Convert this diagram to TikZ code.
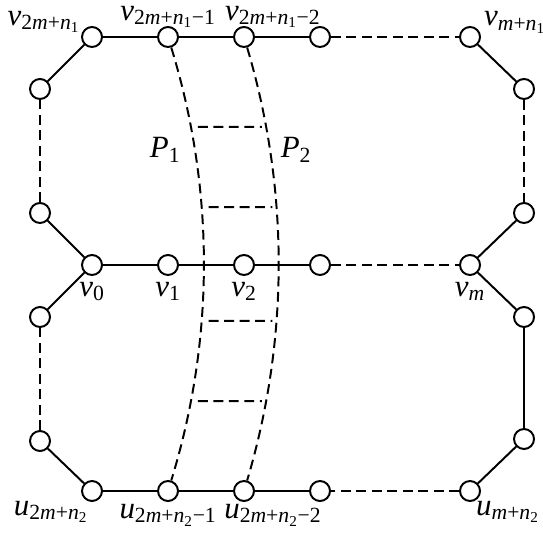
\documentclass[tikz,border=0pt]{standalone}
\usepackage{fontspec}
\setmainfont{Liberation Serif}
\newcommand\idx[2]{\textit{#1}\textsubscript{#2}}
\newcommand\nidx[1]{\textit{n}\textsubscript{#1}}
\tikzset{
  vert/.style={circle,draw,fill=white,minimum size=0.5cm,inner sep=0pt},
  lab/.style={inner sep=1pt},
  dsh/.style={dash pattern=on 7pt off 4pt},
}
\begin{document}
\begin{tikzpicture}[every node/.style={font=\fontsize{22}{26}\selectfont},line width=1.4pt]
\useasboundingbox (0,0) rectangle (13.575,13.425);
% top row
\node[vert,label={[lab,xshift=-0.05cm,yshift=-0.14cm]above left:\idx{v}{2\textit{m}+\nidx{1}}}] (t0) at (2.3,12.5) {};
\node[vert,label={[lab,yshift=-0.1cm]above:\idx{v}{2\textit{m}+\nidx{1}−1}}] (t1) at (4.2,12.5) {};
\node[vert,label={[lab,xshift=0.72cm,yshift=-0.1cm]above:\idx{v}{2\textit{m}+\nidx{1}−2}}] (t2) at (6.1,12.5) {};
\node[vert] (t3) at (8.0,12.5) {};
\node[vert,label={[lab,xshift=0.1cm,yshift=-0.16cm]above right:\idx{v}{\textit{m}+\nidx{1}}}] (tm) at (11.75,12.5) {};
% middle row
\node[vert,label={[lab,label distance=0.1cm]below:\idx{v}{0}}] (v0) at (2.3,6.8) {};
\node[vert,label={[lab,label distance=0.1cm]below:\idx{v}{1}}] (v1) at (4.2,6.8) {};
\node[vert,label={[lab,label distance=0.1cm]below:\idx{v}{2}}] (v2) at (6.1,6.8) {};
\node[vert] (v3) at (8.0,6.8) {};
\node[vert,label={[lab,label distance=0.1cm]below:\idx{v}{\textit{m}}}] (vm) at (11.75,6.8) {};
% bottom row
\node[vert,label={[lab,xshift=0.15cm]below left:\idx{u}{2\textit{m}+\nidx{2}}}] (u0) at (2.3,1.15) {};
\node[vert,label={[lab]below:\idx{u}{2\textit{m}+\nidx{2}−1}}] (u1) at (4.2,1.15) {};
\node[vert,label={[lab,xshift=0.72cm]below:\idx{u}{2\textit{m}+\nidx{2}−2}}] (u2) at (6.1,1.15) {};
\node[vert] (u3) at (8.0,1.15) {};
\node[vert,label={[lab,xshift=-0.1cm]below right:\idx{u}{\textit{m}+\nidx{2}}}] (um) at (11.75,1.15) {};
% sides
\node[vert] (l1) at (1.0,11.2) {};
\node[vert] (l2) at (1.0,8.1) {};
\node[vert] (l3) at (1.0,5.5) {};
\node[vert] (l4) at (1.0,2.4) {};
\node[vert] (r1) at (13.1,11.2) {};
\node[vert] (r2) at (13.1,8.1) {};
\node[vert] (r3) at (13.1,5.5) {};
\node[vert] (r4) at (13.1,2.45) {};
% edges
\draw (l1) -- (t0) -- (t1) -- (t2) -- (t3); \draw[dsh] (t3) -- (tm);
\draw (tm) -- (r1); \draw[dsh] (r1) -- (r2);
\draw (r2) -- (vm) -- (r3) -- (r4) -- (um); \draw[dsh] (um) -- (u3);
\draw (u3) -- (u2) -- (u1) -- (u0) -- (l4); \draw[dsh] (l4) -- (l3);
\draw (l3) -- (v0) -- (l2); \draw[dsh] (l2) -- (l1);
\draw (v0) -- (v1) -- (v2) -- (v3); \draw[dsh] (v3) -- (vm);
% paths P1, P2
\draw[dsh] (t1) .. controls (5.37,8.7) and (5.37,4.95) .. (u1)
  coordinate[pos=0.185] (a1) coordinate[pos=0.37] (a2) coordinate[pos=0.63] (a3) coordinate[pos=0.815] (a4);
\draw[dsh] (t2) .. controls (7.23,8.7) and (7.23,4.95) .. (u2)
  coordinate[pos=0.185] (b1) coordinate[pos=0.37] (b2) coordinate[pos=0.63] (b3) coordinate[pos=0.815] (b4);
\draw[dsh,shorten <=5pt,shorten >=3pt] (a1) -- (b1); \draw[dsh,shorten <=5pt,shorten >=3pt] (a2) -- (b2);
\draw[dsh,shorten <=5pt,shorten >=3pt] (a3) -- (b3); \draw[dsh,shorten <=5pt,shorten >=3pt] (a4) -- (b4);
\node (p1) at (4.13,9.68) {\idx{P}{1}};
\node (p2) at (7.4,9.68) {\idx{P}{2}};
\end{tikzpicture}
\end{document}
